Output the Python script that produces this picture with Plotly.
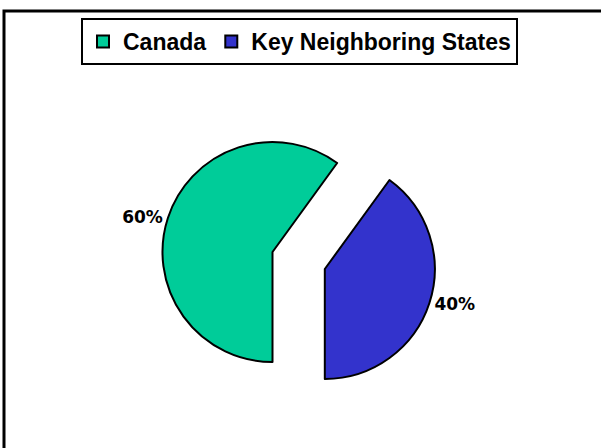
import plotly.graph_objects as go

labels = ["Canada", "Key Neighboring States"]
values = [60, 40]
colors = ["#00CC99", "#3333CC"]
pulls = [0, 0.5]

W, H = 601, 448
cx, cy, r = 272.5, 252, 110
maxpull = max(pulls)
half = r * (1 + maxpull)

fig = go.Figure(go.Pie(
    labels=labels, values=values, sort=False, direction="clockwise", rotation=180,
    pull=pulls,
    marker=dict(colors=colors, line=dict(color="black", width=2)),
    textinfo="percent", textposition="outside",
    texttemplate="%{percent:.0%}",
    textfont=dict(family="DejaVu Sans", size=17, color="black", weight="bold"),
    domain=dict(x=[(cx - half) / W, (cx + half) / W],
                y=[(H - cy - half) / H, (H - cy + half) / H]),
    automargin=False,
))

fig.update_layout(
    width=W, height=H, margin=dict(l=0, r=0, t=0, b=0),
    paper_bgcolor="white", plot_bgcolor="white",
    showlegend=True,
    legend=dict(orientation="h", x=(77 + 522) / 2 / W, xanchor="center", y=(H - 18) / H, yanchor="top",
                bordercolor="black", borderwidth=2,
                font=dict(family="Liberation Sans", size=23, color="black", weight="bold"),
                itemwidth=30, tracegroupgap=0),
    shapes=[dict(type="rect", xref="paper", yref="paper",
                 x0=4 / W, x1=1.05, y0=-0.05, y1=(H - 11) / H,
                 line=dict(color="black", width=3))],
)

fig.write_html("out.html", config={"displayModeBar": False},
               post_script="document.body.style.margin='0';document.body.style.overflow='hidden';")
